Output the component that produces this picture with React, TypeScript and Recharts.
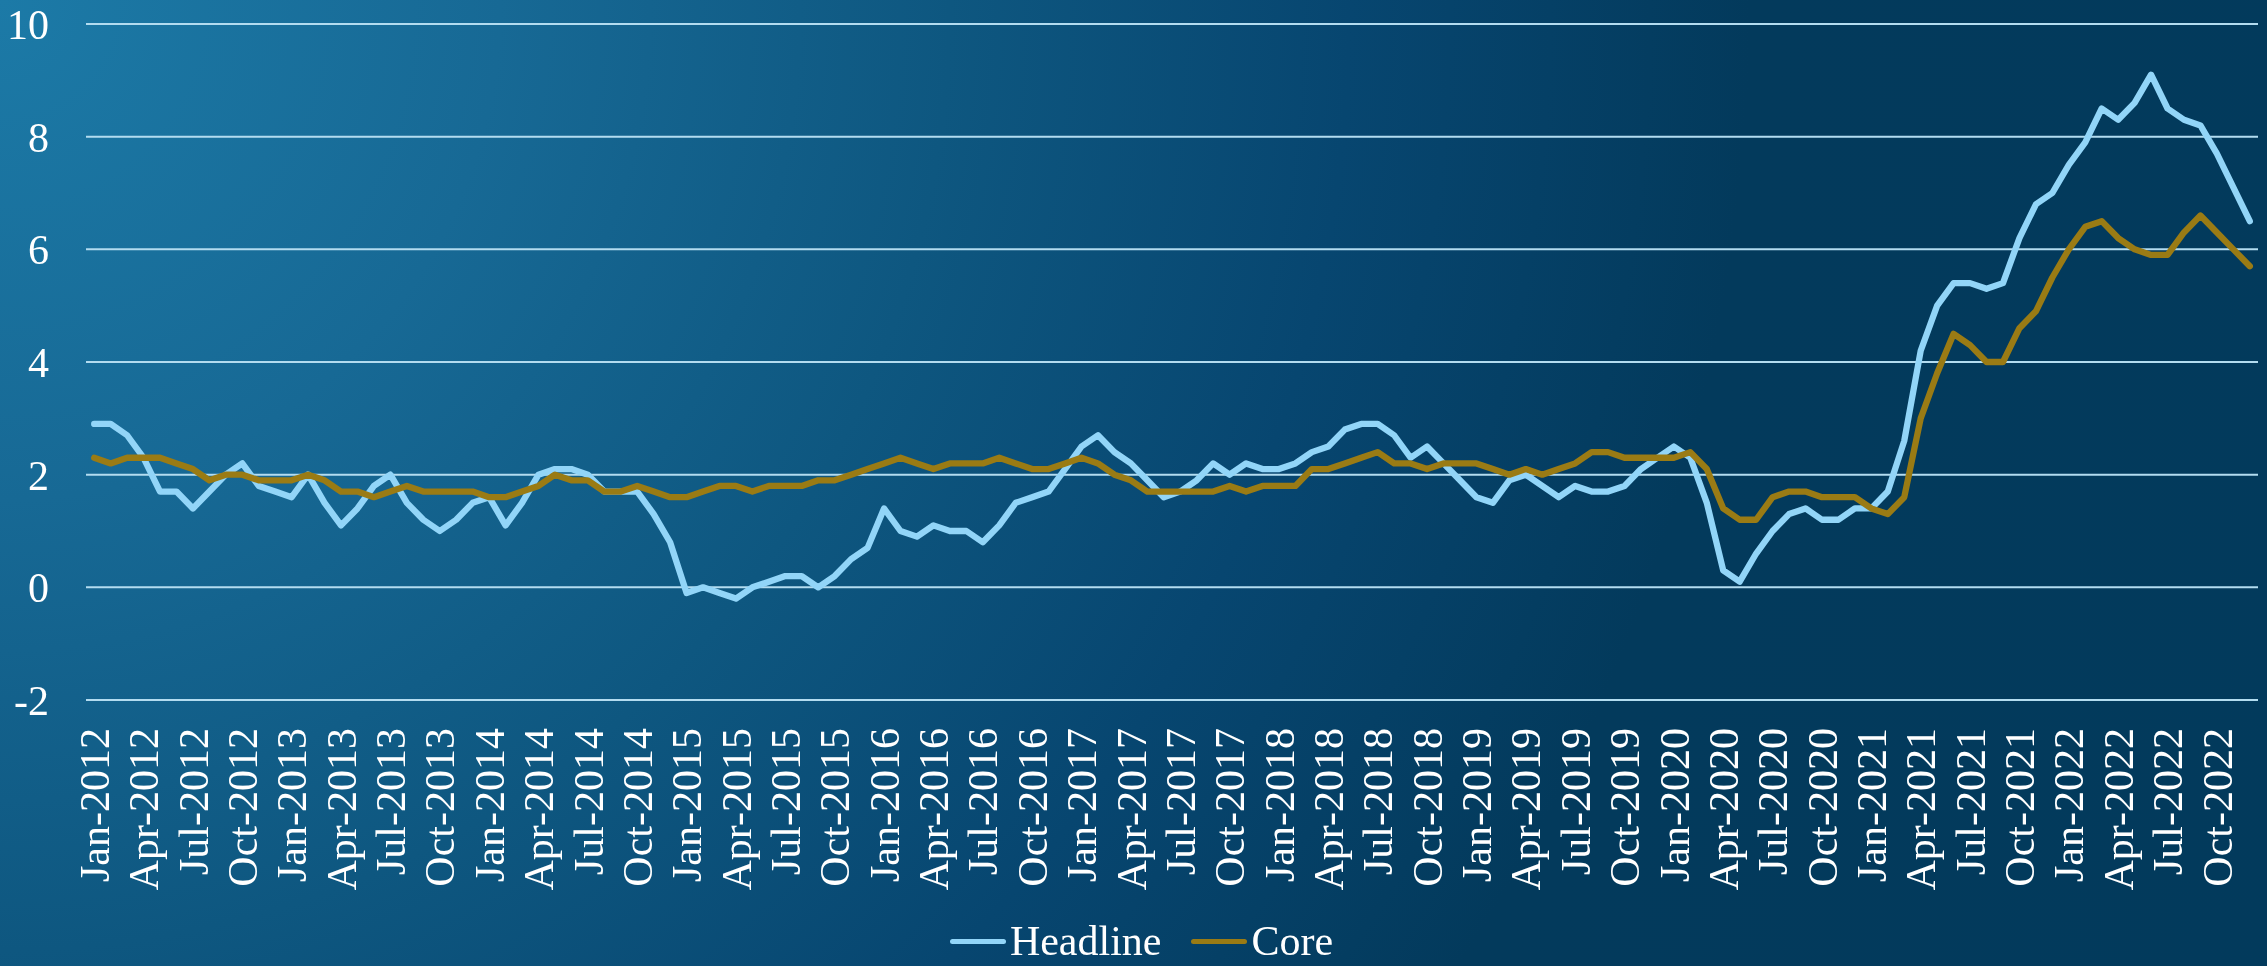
import React from 'react';
import { LineChart, Line, XAxis, YAxis, CartesianGrid, Legend } from 'recharts';

const MONTHS = ['Jan', 'Feb', 'Mar', 'Apr', 'May', 'Jun', 'Jul', 'Aug', 'Sep', 'Oct', 'Nov', 'Dec'];
const YEARS = [2012, 2013, 2014, 2015, 2016, 2017, 2018, 2019, 2020, 2021, 2022];
const CATEGORIES = YEARS.flatMap((y) => MONTHS.map((m) => `${m}-${y}`));

const HEADLINE = [
  2.9, 2.9, 2.7, 2.3, 1.7, 1.7, 1.4, 1.7, 2.0, 2.2, 1.8, 1.7, // 2012
  1.6, 2.0, 1.5, 1.1, 1.4, 1.8, 2.0, 1.5, 1.2, 1.0, 1.2, 1.5, // 2013
  1.6, 1.1, 1.5, 2.0, 2.1, 2.1, 2.0, 1.7, 1.7, 1.7, 1.3, 0.8, // 2014
  -0.1, 0.0, -0.1, -0.2, 0.0, 0.1, 0.2, 0.2, 0.0, 0.2, 0.5, 0.7, // 2015
  1.4, 1.0, 0.9, 1.1, 1.0, 1.0, 0.8, 1.1, 1.5, 1.6, 1.7, 2.1, // 2016
  2.5, 2.7, 2.4, 2.2, 1.9, 1.6, 1.7, 1.9, 2.2, 2.0, 2.2, 2.1, // 2017
  2.1, 2.2, 2.4, 2.5, 2.8, 2.9, 2.9, 2.7, 2.3, 2.5, 2.2, 1.9, // 2018
  1.6, 1.5, 1.9, 2.0, 1.8, 1.6, 1.8, 1.7, 1.7, 1.8, 2.1, 2.3, // 2019
  2.5, 2.3, 1.5, 0.3, 0.1, 0.6, 1.0, 1.3, 1.4, 1.2, 1.2, 1.4, // 2020
  1.4, 1.7, 2.6, 4.2, 5.0, 5.4, 5.4, 5.3, 5.4, 6.2, 6.8, 7.0, // 2021
  7.5, 7.9, 8.5, 8.3, 8.6, 9.1, 8.5, 8.3, 8.2, 7.7, 7.1, 6.5, // 2022
];

const CORE = [
  2.3, 2.2, 2.3, 2.3, 2.3, 2.2, 2.1, 1.9, 2.0, 2.0, 1.9, 1.9, // 2012
  1.9, 2.0, 1.9, 1.7, 1.7, 1.6, 1.7, 1.8, 1.7, 1.7, 1.7, 1.7, // 2013
  1.6, 1.6, 1.7, 1.8, 2.0, 1.9, 1.9, 1.7, 1.7, 1.8, 1.7, 1.6, // 2014
  1.6, 1.7, 1.8, 1.8, 1.7, 1.8, 1.8, 1.8, 1.9, 1.9, 2.0, 2.1, // 2015
  2.2, 2.3, 2.2, 2.1, 2.2, 2.2, 2.2, 2.3, 2.2, 2.1, 2.1, 2.2, // 2016
  2.3, 2.2, 2.0, 1.9, 1.7, 1.7, 1.7, 1.7, 1.7, 1.8, 1.7, 1.8, // 2017
  1.8, 1.8, 2.1, 2.1, 2.2, 2.3, 2.4, 2.2, 2.2, 2.1, 2.2, 2.2, // 2018
  2.2, 2.1, 2.0, 2.1, 2.0, 2.1, 2.2, 2.4, 2.4, 2.3, 2.3, 2.3, // 2019
  2.3, 2.4, 2.1, 1.4, 1.2, 1.2, 1.6, 1.7, 1.7, 1.6, 1.6, 1.6, // 2020
  1.4, 1.3, 1.6, 3.0, 3.8, 4.5, 4.3, 4.0, 4.0, 4.6, 4.9, 5.5, // 2021
  6.0, 6.4, 6.5, 6.2, 6.0, 5.9, 5.9, 6.3, 6.6, 6.3, 6.0, 5.7, // 2022
];

const Y_TICKS = [-2, 0, 2, 4, 6, 8, 10];
const SERIES_NAMES = ['Headline', 'Core'];

const data = CATEGORIES.map((month, i) => ({
  month,
  headline: HEADLINE[i],
  core: CORE[i],
}));

const FONT = "'Liberation Serif', 'Times New Roman', serif";
const HEADLINE_COLOR = '#92d5f8';
const CORE_COLOR = '#9a7b14';
const GRID_COLOR = '#b3dcf0';
const LINE_WIDTH = 6.3;

const XTick = (props: any) => {
  const { x, y, payload } = props;
  return (
    <text
      x={x}
      y={y}
      transform={`rotate(-90, ${x}, ${y})`}
      textAnchor="end"
      dy="0.35em"
      fill="#ffffff"
      fontSize={42}
      fontFamily={FONT}
    >
      {payload.value}
    </text>
  );
};

const LegendContent = (props: any) => {
  const raw = (props.payload || []) as any[];
  const items = SERIES_NAMES.map((n) => raw.find((it) => it.value === n)).filter(Boolean);
  return (
    <div
      style={{
        display: 'flex',
        justifyContent: 'center',
        alignItems: 'center',
        width: 2267,
        height: 50,
        paddingLeft: 16,
        boxSizing: 'border-box',
      }}
    >
      {items.map((it: any, i: number) => (
        <div
          key={it.value}
          style={{ display: 'flex', alignItems: 'center', marginLeft: i === 0 ? 0 : 30, height: 50 }}
        >
          <span
            style={{
              display: 'inline-block',
              width: 56,
              height: 5,
              borderRadius: 3,
              background: it.color,
              marginRight: 4,
            }}
          />
          <span
            style={{
              fontFamily: FONT,
              fontSize: 42,
              lineHeight: '50px',
              color: '#ffffff',
            }}
          >
            {it.value}
          </span>
        </div>
      ))}
    </div>
  );
};

export default function App() {
  return (
    <div
      style={{
        position: 'fixed',
        left: 0,
        top: 0,
        width: 2267,
        height: 966,
        background:
          'radial-gradient(circle at 0px 0px, #1c7aa7 0px, #176995 500px, #0e5780 950px, #074670 1350px, #033a5c 1750px, #023a5c 2500px)',
        overflow: 'hidden',
      }}
    >
      <LineChart
        width={2267}
        height={966}
        data={data}
        margin={{ top: 24, right: 9, bottom: 0, left: 0 }}
      >
        <CartesianGrid horizontal vertical={false} stroke={GRID_COLOR} strokeWidth={2} />
        <XAxis
          dataKey="month"
          interval={2}
          axisLine={false}
          tickLine={false}
          tickSize={0}
          tickMargin={28}
          height={216}
          padding={{ left: 8.2, right: 8.2 }}
          tick={<XTick />}
        />
        <YAxis
          domain={[-2, 10]}
          ticks={Y_TICKS}
          width={86}
          axisLine={false}
          tickLine={false}
          tickSize={0}
          tickMargin={37}
          tick={{ fill: '#ffffff', fontSize: 42, fontFamily: FONT }}
        />
        <Legend
          verticalAlign="bottom"
          content={<LegendContent />}
          wrapperStyle={{ position: 'absolute', left: 0, bottom: 0, width: 2267, height: 50, margin: 0 }}
        />
        <Line
          type="linear"
          dataKey="headline"
          name={SERIES_NAMES[0]}
          stroke={HEADLINE_COLOR}
          strokeWidth={LINE_WIDTH}
          strokeLinecap="round"
          strokeLinejoin="round"
          dot={false}
          activeDot={false}
          isAnimationActive={false}
        />
        <Line
          type="linear"
          dataKey="core"
          name={SERIES_NAMES[1]}
          stroke={CORE_COLOR}
          strokeWidth={LINE_WIDTH}
          strokeLinecap="round"
          strokeLinejoin="round"
          dot={false}
          activeDot={false}
          isAnimationActive={false}
        />
      </LineChart>
    </div>
  );
}
